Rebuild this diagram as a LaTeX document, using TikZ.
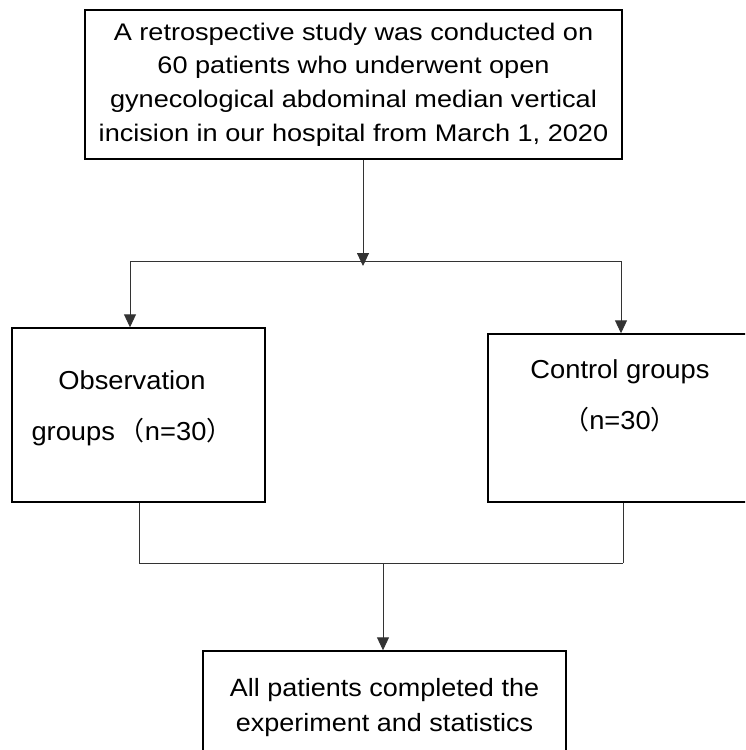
\documentclass[tikz,border=0pt]{standalone}
\usepackage{fontspec}
\usetikzlibrary{arrows.meta}
\setmainfont{Liberation Sans}
\newfontfamily\cjk{Noto Sans CJK SC}
\newfontfamily\topfont{Liberation Sans}[FakeStretch=1.13]
\newfontfamily\midfont{Liberation Sans}[FakeStretch=1.05]
\newfontfamily\endfont{Liberation Sans}[FakeStretch=1.08]
\newcommand*{\splitY}{261}
\newcommand*{\mergeY}{563}

\begin{document}
\begin{tikzpicture}[x=1pt,y=-1pt,
    box/.style={draw=black, line width=1.4pt, inner sep=0pt},
    conn/.style={draw=black!80, line width=0.9pt},
    tip/.style={-{Triangle[length=13pt,width=12pt]}}]
        \useasboundingbox (0,0) rectangle (745,750);
        \clip (0,0) rectangle (745,750);
        % boxes
        \node [box, minimum width=537pt, minimum height=149pt, align=center,
               font=\topfont\fontsize{24}{33.7}\selectfont] (study) at (353.5,84.5)
            {A retrospective study was conducted on\\60 patients who underwent open\\gynecological abdominal median vertical\\incision in our hospital from March 1, 2020};
        \node [box, minimum width=253pt, minimum height=174pt] (obs) at (138.5,415) {};
        \node [box, minimum width=272pt, minimum height=168pt] (ctl) at (624,418) {};
        \node [box, minimum width=363pt, minimum height=114pt, align=center,
               font=\endfont\fontsize{25}{35}\selectfont] (done) at (384.5,708)
            {All patients completed the\\experiment and statistics};
        \node [align=center, font=\midfont\fontsize{26}{51}\selectfont] (obstext) at (132,408)
            {Observation\\groups\hspace{4pt}{\cjk （}n=30{\cjk ）}};
        \node [align=center, font=\midfont\fontsize{26}{51}\selectfont] (ctltext) at (620,396)
            {Control groups\\{\cjk （}n=30{\cjk ）}};
        % split
        \coordinate (split) at (363,\splitY);
        \coordinate (bl) at (130,\splitY);
        \coordinate (br) at (621,\splitY);
        \draw [conn, tip] (study.south -| split) -- ([yshift=-5pt]split);
        \draw [conn] (bl) -- (br);
        \foreach \b/\n in {bl/obs, br/ctl} {
            \draw [conn, tip] (\b) -- (\b |- \n.north);
        }
        % merge
        \coordinate (ml) at (139,\mergeY);
        \coordinate (mr) at (623,\mergeY);
        \coordinate (merge) at (383,\mergeY);
        \foreach \n/\c in {obs/ml, ctl/mr} {
            \draw [conn] (\n.south -| \c) -- (\c);
        }
        \draw [conn] (ml) -- (mr);
        \draw [conn, tip] (merge) -- (merge |- done.north);
    \end{tikzpicture}
\end{document}
